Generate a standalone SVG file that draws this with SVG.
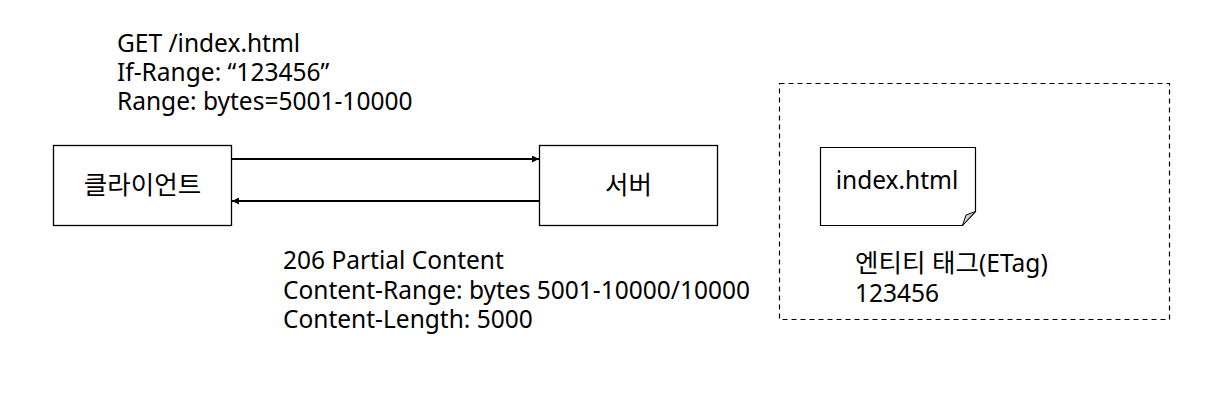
<svg xmlns="http://www.w3.org/2000/svg" width="1219" height="402" viewBox="0 0 1219 402">
<style>
text{font-family:"Noto Sans","Noto Sans CJK KR",sans-serif;font-size:24.5px;fill:#000}
.ko{font-size:25.5px}
.box{fill:#fff;stroke:#000;stroke-width:1.3}
.c{text-anchor:middle}
</style>
<defs>
<marker id="ah" viewBox="0 0 10 10" refX="10" refY="5" markerWidth="9" markerHeight="7" markerUnits="userSpaceOnUse" orient="auto">
<path d="M0,0 L10,5 L0,10 z" fill="#000"/>
</marker>
</defs>
<rect width="1219" height="402" fill="#fff"/>
<g id="storage">
<rect x="779.5" y="83.5" width="390" height="236" fill="none" stroke="#000" stroke-width="1.2" stroke-dasharray="5,4"/>
</g>
<g id="client">
<rect class="box" x="53.5" y="145.5" width="178" height="80"/>
<text class="c ko" x="142.5" y="194">클라이언트</text>
</g>
<g id="server">
<rect class="box" x="539.5" y="145.5" width="178" height="80"/>
<text class="c ko" x="628.5" y="194">서버</text>
</g>
<g id="document">
<path d="M820.5,147.5 H975.5 V211.5 L962.5,225.5 H820.5 Z" fill="#fff" stroke="#000" stroke-width="1.2"/>
<path d="M975.5,211.5 L962.5,225.5 L966,215 Z" fill="#cfcfcf" stroke="#000" stroke-width="1"/>
<text class="c" x="897" y="189">index.html</text>
</g>
<g id="connectors">
<line x1="232" y1="159" x2="539" y2="159" stroke="#000" stroke-width="1.8" marker-end="url(#ah)"/>
<line x1="539" y1="201" x2="232" y2="201" stroke="#000" stroke-width="1.8" marker-end="url(#ah)"/>
</g>
<g id="request-label">
<text x="117" y="52">GET /index.html</text>
<text x="117" y="81">If-Range: “123456”</text>
<text x="117" y="110">Range: bytes=5001-10000</text>
</g>
<g id="response-label">
<text x="283" y="269">206 Partial Content</text>
<text x="283" y="299">Content-Range: bytes 5001-10000/10000</text>
<text x="283" y="328">Content-Length: 5000</text>
</g>
<g id="etag-label">
<text x="855" y="272"><tspan class="ko">엔티티 태그</tspan>(ETag)</text>
<text x="855" y="302">123456</text>
</g>
</svg>
